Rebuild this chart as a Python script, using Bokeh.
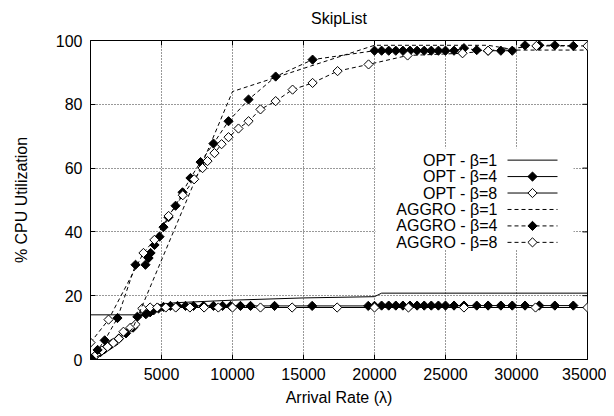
from bokeh.plotting import figure
from bokeh.models import Range1d, FixedTicker, Title
from bokeh.core.properties import value
from bokeh.embed import file_html
from bokeh.resources import INLINE

# ---------------- data ----------------
TITLE = "SkipList"
X_TICKS = [5000, 10000, 15000, 20000, 25000, 30000, 35000]
Y_TICKS = [0, 20, 40, 60, 80, 100]

OPT_B1_X = [0, 3600, 4000, 4500, 5000, 6000, 8000, 10000, 15000, 20000, 20500, 35000]
OPT_B1_Y = [14, 14, 15.5, 16.6, 17.3, 17.8, 18.2, 18.6, 19.3, 19.7, 20.8, 20.8]

OPT_B4_X = [0, 300, 700, 1000, 1500, 2000, 2500, 3000, 3300, 3900, 4200, 4440, 4790, 5140,
            5630, 6130, 6690, 7250, 7960, 8660, 9300, 9860, 10560, 11270, 12960, 15610,
            19560, 20000, 20500, 21000, 21500, 22000, 22500, 23000, 23500, 24000, 24500,
            25000, 25600, 26300, 27200, 28000, 28900, 29700, 30600, 31600, 32700, 34000]
OPT_B4_Y = [0, 1, 2.3, 3.3, 5, 6.6, 8.2, 10, 13.4, 14.2, 14.8, 15.4, 16, 16.5,
            16.8, 16.8, 16.8, 16.8, 16.8, 16.8, 16.8, 16.8, 16.8, 16.8, 16.8, 16.8,
            16.8, 16.8, 16.9, 16.9, 16.9, 16.9, 16.9, 16.9, 16.9, 16.9, 16.9,
            16.9, 16.9, 16.9, 16.9, 16.9, 16.9, 16.9, 16.9, 16.9, 16.9, 16.9]

OPT_B8_X = [0, 400, 800, 1200, 1600, 2000, 2320, 2820, 3170, 3650, 4200, 4700, 5300, 6000,
            7000, 8000, 9000, 10000, 11970, 14200, 17370, 20000, 22390, 26300, 31340, 35000]
OPT_B8_Y = [0.3, 1.5, 2.8, 4, 5.2, 6.5, 8.7, 10, 11, 16, 16.3, 16.3, 16.3, 16.3,
            16.3, 16.3, 16.3, 16.3, 16.3, 16.3, 16.3, 16.3, 16.3, 16.3, 16.3, 16.3]

AGG_B1_X = [0, 1000, 2000, 3000, 10000, 20000, 28000, 30000, 35000]
AGG_B1_Y = [0, 2, 5, 10, 84, 98.5, 98.5, 97, 97]

AGG_B4_X = [0, 500, 1000, 1900, 3170, 3870, 4090, 4230, 4510, 4860, 5140, 5490, 5990, 6480,
            7040, 7750, 8660, 9720, 11130, 13040, 15640, 20000, 20500, 21000, 21500, 22000,
            22500, 23000, 23500, 24000, 24500, 25000, 25600, 26300, 27200, 28000, 28900,
            29700, 30600, 31600, 32700, 34000]
AGG_B4_Y = [0.5, 3, 6, 13, 29.7, 29.7, 31.8, 33.4, 35.9, 38.5, 41.5, 44.6, 48.2, 52.4,
            56.9, 61.9, 67.7, 74.7, 81.5, 88.7, 94, 96.8, 96.8, 96.8, 96.8, 96.8,
            96.8, 96.8, 96.8, 96.8, 96.8, 96.8, 96.8, 97.6, 97, 96.8, 96.8,
            96.8, 98.5, 98.5, 98.5, 98.3]

AGG_B8_X = [0, 1270, 3730, 4500, 5500, 6500, 7300, 7890, 8240, 8730, 9230, 9720, 10420, 11130,
            11970, 13040, 14230, 15640, 17400, 19580, 22330, 26200, 28000, 31400, 35000]
AGG_B8_Y = [5.3, 12.5, 33.4, 37.5, 45, 51.5, 56.5, 60, 62.2, 64.7, 67.5, 69.7, 72.4, 74.7,
            78.4, 81, 84.6, 86.7, 90.4, 92.5, 95.3, 96, 96.8, 98.3, 98.3]

LEGEND_LABELS = ["OPT - \u03b2=1", "OPT - \u03b2=4", "OPT - \u03b2=8",
                 "AGGRO - \u03b2=1", "AGGRO - \u03b2=4", "AGGRO - \u03b2=8"]

FONT = "Liberation Sans"

# ---------------- figure ----------------
W, H = 606, 408
ML, MR, MT, MB = 90, 19, 40, 48
XMAX, YMAX = 35000, 100
FW, FH = W - ML - MR, H - MT - MB

p = figure(width=W, height=H, x_range=Range1d(0, XMAX), y_range=Range1d(0, YMAX),
           output_backend="svg", toolbar_location=None,
           min_border_left=ML, min_border_right=MR, min_border_top=MT, min_border_bottom=MB)
p.background_fill_color = "white"
p.border_fill_color = "white"
p.outline_line_color = "black"
p.outline_line_width = 1

# spacer title between frame and the real title pushes the title upward
p.add_layout(Title(text=" ", text_font_size="7px", standoff=0), "above")
p.title.text = TITLE
p.title.align = "center"
p.title.text_font = FONT
p.title.text_font_size = "16px"
p.title.text_font_style = "normal"
p.title.text_color = "black"

for ax in p.axis:
    ax.axis_line_color = "black"
    ax.major_tick_in = 5
    ax.major_tick_out = 0
    ax.minor_tick_line_color = None
    ax.major_label_text_font = FONT
    ax.major_label_text_font_size = "16px"
    ax.major_label_text_color = "black"
    ax.axis_label_text_font = FONT
    ax.axis_label_text_font_size = "16px"
    ax.axis_label_text_font_style = "normal"
    ax.axis_label_text_color = "black"

p.xaxis.ticker = FixedTicker(ticks=X_TICKS)
p.yaxis.ticker = FixedTicker(ticks=Y_TICKS)
p.xaxis.axis_label = "Arrival Rate (\u03bb)"
p.yaxis.axis_label = "% CPU Utilization"
p.xaxis.major_label_standoff = 8
p.yaxis.major_label_standoff = 8
p.xaxis.axis_label_standoff = 6
p.yaxis.axis_label_standoff = 23

for g in (p.xgrid, p.ygrid):
    g.grid_line_color = "#333333"
    g.grid_line_dash = "1 2"
    g.grid_line_width = 1

# page pixel -> data helpers (legend placement and mirror tick length)
def dx(px):
    return (px - ML) / FW * XMAX

def dy(py):
    return (FH - (py - MT)) / FH * YMAX

# mirror ticks on top and right (gnuplot style)
TL = 5
p.segment(x0=X_TICKS, y0=[YMAX] * len(X_TICKS), x1=X_TICKS,
          y1=[YMAX - TL / FH * YMAX] * len(X_TICKS), line_color="black", line_width=1)
p.segment(x0=[XMAX] * len(Y_TICKS), y0=Y_TICKS, x1=[XMAX - TL / FW * XMAX] * len(Y_TICKS),
          y1=Y_TICKS, line_color="black", line_width=1)

p.quad(left=[dx(375)], right=[dx(573)], top=[dy(148)], bottom=[dy(250)],
       fill_color="white", line_color=None)

DASH = "4 3"
MS = 6.5

def series(xs, ys, dash, marker, fill):
    p.line(xs, ys, line_color="black", line_width=1, line_dash=dash)
    if marker:
        p.scatter(xs, ys, marker="square", angle=0.785398, size=MS,
                  fill_color=fill, line_color="black", line_width=1)

series(OPT_B1_X, OPT_B1_Y, "solid", False, None)
series(OPT_B4_X, OPT_B4_Y, "solid", True, "black")
series(OPT_B8_X, OPT_B8_Y, "solid", True, "white")
series(AGG_B1_X, AGG_B1_Y, DASH, False, None)
series(AGG_B4_X, AGG_B4_Y, DASH, True, "black")
series(AGG_B8_X, AGG_B8_Y, DASH, True, "white")

# legend (gnuplot style: text right aligned, then sample)
styles = [("solid", None), ("solid", "black"), ("solid", "white"),
          (DASH, None), (DASH, "black"), (DASH, "white")]
row0, step = 160, 16.5
for i, (lab, (dash, fill)) in enumerate(zip(LEGEND_LABELS, styles)):
    yy = dy(row0 + i * step)
    p.text(x=[dx(497)], y=[yy], text=[lab], text_align="right", text_baseline="middle",
           text_font=value(FONT), text_font_size="16px", text_color="black")
    p.line([dx(507), dx(557)], [yy, yy], line_color="black", line_width=1, line_dash=dash)
    if fill:
        p.scatter([dx(532)], [yy], marker="square", angle=0.785398, size=MS,
                  fill_color=fill, line_color="black", line_width=1)

open("out.html", "w").write(file_html(p, INLINE))
